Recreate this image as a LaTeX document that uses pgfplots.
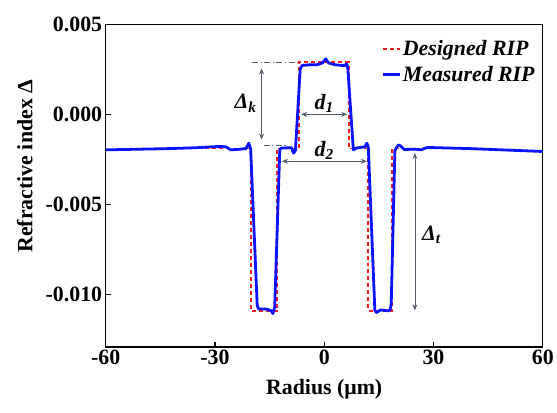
\documentclass[border=0pt]{standalone}
\usepackage{fontspec}
\setmainfont{Liberation Serif}
\usepackage{pgfplots}
\pgfplotsset{compat=1.18}
\usetikzlibrary{arrows.meta}
\definecolor{myblue}{RGB}{10,20,250}
\definecolor{myred}{RGB}{240,30,30}
\definecolor{annot}{RGB}{85,95,110}
\newcommand{\bigfont}{\fontsize{22}{24}\selectfont\bfseries}
\begin{document}
\begin{tikzpicture}
\path (-106bp,-66bp) rectangle (451bp,348bp);
\begin{axis}[
  at={(0,0)}, anchor=south west,
  scale only axis, width=438.5bp, height=323.7bp,
  xmin=-60, xmax=60, ymin=-0.0129, ymax=0.005,
  clip=false,
  xtick={-60,-30,0,30,60},
  ytick={-0.01,-0.005,0,0.005},
  scaled y ticks=false,
  yticklabel={\pgfmathprintnumber[fixed,fixed zerofill,precision=3,assume math mode=true]{\tick}},
  xticklabel={\pgfmathprintnumber[assume math mode=true]{\tick}},
  tick label style={font=\bigfont},
  xtick pos=bottom, ytick pos=left,
  tick align=inside,
  major tick length=5bp,
  tick style={black, line width=1.2bp},
  axis line style={black, line width=1.3bp},
  xlabel={Radius (μm)}, ylabel={Refractive index Δ},
  every axis label/.append style={font=\bigfont},
  xlabel style={at={(axis description cs:0.5,-0.13)}, anchor=center},
  ylabel style={at={(axis description cs:-0.185,0.56)}, anchor=center},
  legend style={at={(1,1)}, anchor=north east, xshift=-6bp, yshift=-14bp,
    draw=none, fill=none, inner sep=0pt, row sep=5bp,
    font=\fontsize{22}{24}\selectfont\bfseries\itshape},
  legend cell align=left,
]
\addplot[myred, line width=1.8bp, dash pattern=on 4bp off 3bp] coordinates {
(-48,-0.0019) (-20.1,-0.0019) (-20.1,-0.0109) (-13.0,-0.0109) (-13.0,-0.0019)
(-7.0,-0.0019) (-7.0,0.0029) (6.7,0.0029) (6.7,-0.0019) (12.1,-0.0019)
(12.1,-0.0109) (18.7,-0.0109) (18.7,-0.0019) (48,-0.0019)
};
\addlegendentry{Designed RIP}
\addplot[myblue, line width=2.8bp, line join=round] coordinates {
(-60,-0.00197) (-50,-0.00193) (-42.6,-0.00190) (-35,-0.00185) (-28.9,-0.00178)
(-27,-0.00180) (-25.7,-0.00197) (-24,-0.00195) (-21.5,-0.00190) (-20.7,-0.00160)
(-20.2,-0.00190) (-18.4,-0.01060) (-18.0,-0.01080) (-16,-0.01080) (-14.5,-0.01090)
(-14.1,-0.01105) (-13.6,-0.01070) (-12.2,-0.00197) (-11.8,-0.00187) (-9,-0.00185)
(-8.4,-0.00215) (-7.9,-0.00200) (-6.6,0.00250) (-6.1,0.00271) (-4,0.00275)
(-2,0.00275) (-0.5,0.00285) (0.4,0.00308) (1.2,0.00285) (3,0.00275)
(5.5,0.00270) (6.2,0.00280) (6.5,0.00250) (8.0,-0.00197) (8.8,-0.00187)
(11.2,-0.00180) (11.7,-0.00160) (12.1,-0.00180) (13.9,-0.01087) (14.3,-0.01100)
(15.5,-0.01085) (17.5,-0.01090) (18.1,-0.01085) (18.4,-0.01050) (19.4,-0.00200)
(20.3,-0.00170) (20.8,-0.00173) (22,-0.00195) (25,-0.00193) (26.6,-0.00197)
(28,-0.00185) (29,-0.00184) (40,-0.00190) (50,-0.00198) (60,-0.00206)
};
\addlegendentry{Measured RIP}
% annotations
\draw[annot, line width=0.9bp, dash pattern=on 6bp off 2.5bp on 1.2bp off 2.5bp] (axis cs:-19.8,0.0029) -- (axis cs:-7,0.0029);
\draw[annot, line width=0.9bp, dash pattern=on 6bp off 2.5bp on 1.2bp off 2.5bp] (axis cs:-16.6,-0.00173) -- (axis cs:-10.2,-0.00173);
\draw[annot, line width=0.8bp, {Stealth[length=6bp,width=5bp]}-{Stealth[length=6bp,width=5bp]}] (axis cs:-17.2,0.00255) -- (axis cs:-17.2,-0.0014);
\node[font=\bigfont\itshape] at (axis cs:-21.6,0.0006) {Δ\textsubscript{k}};
\draw[annot, line width=0.8bp, {Stealth[length=6bp,width=5bp]}-{Stealth[length=6bp,width=5bp]}] (axis cs:-6.3,0) -- (axis cs:6.3,0);
\node[font=\bigfont\itshape, anchor=south, inner sep=1bp] at (axis cs:0,0.00005) {d\textsubscript{1}};
\draw[annot, line width=0.8bp, {Stealth[length=6bp,width=5bp]}-{Stealth[length=6bp,width=5bp]}] (axis cs:-11.6,-0.0026) -- (axis cs:11.7,-0.0026);
\node[font=\bigfont\itshape, anchor=south, inner sep=1bp] at (axis cs:0,-0.00255) {d\textsubscript{2}};
\draw[annot, line width=0.8bp, {Stealth[length=6bp,width=5bp]}-{Stealth[length=6bp,width=5bp]}] (axis cs:24.9,-0.00215) -- (axis cs:24.9,-0.01087);
\node[font=\bigfont\itshape] at (axis cs:29.4,-0.0067) {Δ\textsubscript{t}};
\end{axis}
\end{tikzpicture}
\end{document}
